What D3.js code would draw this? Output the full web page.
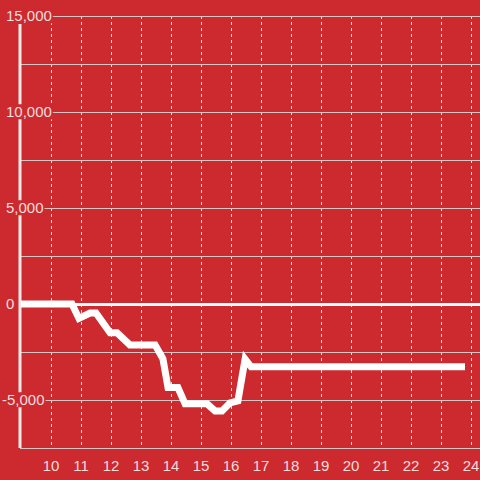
<!DOCTYPE html>
<html>
<head>
<meta charset="utf-8">
<script src="https://cdn.jsdelivr.net/npm/d3@7"></script>
<style>
  body { margin: 0; background: #cc2a2f; }
  text { font-family: "Liberation Sans", Arial, sans-serif; font-size: 15px; fill: #f3dede; }
</style>
</head>
<body>
<div id="chart"></div>
<script>
// hours of the day and running balance
var hours = [9, 10.7, 10.93, 11.3, 11.5, 11.97, 12.2, 12.63, 13.47, 13.73, 13.9, 14.23, 14.47, 15.2, 15.47, 15.7, 15.97, 16.23, 16.47, 16.67, 23.8];
var balance = [0, 0, -750, -470, -470, -1500, -1500, -2130, -2130, -2850, -4350, -4350, -5200, -5200, -5570, -5570, -5150, -5050, -2870, -3270, -3270];
var xTicks = [10, 11, 12, 13, 14, 15, 16, 17, 18, 19, 20, 21, 22, 23, 24];
var yTicks = [-7500, -5000, -2500, 0, 2500, 5000, 7500, 10000, 12500, 15000];
var yLabels = [-5000, 0, 5000, 10000, 15000];

(function() {
  var width = 480, height = 480;
  var left = 20, top = 16, bottom = 448;

  var svg = d3.select("#chart")
    .append("svg")
    .attr("width", width)
    .attr("height", height);

  svg.append("rect")
    .attr("width", width).attr("height", height)
    .attr("fill", "#cc2a2f");

  var x = d3.scaleLinear().domain([9, 24.3]).range([21, 480]);
  var y = d3.scaleLinear().domain([-7500, 15000]).range([bottom, top]);

  var points = hours.map(function(h, i) { return { h: h, v: balance[i] }; });

  // vertical dashed grid
  svg.selectAll(".vgrid")
    .data(xTicks)
    .enter().append("line")
    .attr("x1", function(d) { return x(d) + 0.5; })
    .attr("x2", function(d) { return x(d) + 0.5; })
    .attr("y1", top)
    .attr("y2", bottom)
    .attr("stroke", "#f2dada")
    .attr("stroke-width", 1)
    .attr("stroke-dasharray", "3,3");

  // horizontal grid
  svg.selectAll(".hgrid")
    .data(yTicks)
    .enter().append("line")
    .attr("x1", left)
    .attr("x2", width)
    .attr("y1", function(d) { return y(d) + 0.5; })
    .attr("y2", function(d) { return y(d) + 0.5; })
    .attr("stroke", function(d) { return d === 0 ? "#ffffff" : "#d4c4c4"; })
    .attr("stroke-width", function(d) { return d === 0 ? 3 : 1; });

  // y axis line
  svg.append("line")
    .attr("x1", left).attr("x2", left)
    .attr("y1", 24).attr("y2", bottom)
    .attr("stroke", "#f4eaea")
    .attr("stroke-width", 3);

  // the balance line
  var line = d3.line()
    .x(function(d) { return x(d.h); })
    .y(function(d) { return y(d.v); });

  svg.append("path")
    .datum(points)
    .attr("d", line)
    .attr("fill", "none")
    .attr("stroke", "#ffffff")
    .attr("stroke-width", 7)
    .attr("stroke-linejoin", "miter");

  // y labels with a background patch
  var fmt = d3.format(",");
  var yl = svg.selectAll(".ylabel")
    .data(yLabels)
    .enter().append("g")
    .attr("transform", function(d) { return "translate(" + (d < 0 ? 2 : 6) + "," + y(d) + ")"; });

  yl.append("text")
    .attr("dy", "0.35em")
    .text(function(d) { return fmt(d).replace("−", "-"); })
    .each(function() {
      var b = this.getBBox();
      d3.select(this.parentNode).insert("rect", "text")
        .attr("x", b.x - 1).attr("y", b.y + 1)
        .attr("width", b.width + 2).attr("height", b.height - 2)
        .attr("fill", "#cc2a2f");
    });

  // x labels
  svg.selectAll(".xlabel")
    .data(xTicks)
    .enter().append("text")
    .attr("x", function(d) { return x(d); })
    .attr("y", 466)
    .attr("dy", "0.35em")
    .attr("text-anchor", "middle")
    .text(function(d) { return d; });
})();
</script>
</body>
</html>
